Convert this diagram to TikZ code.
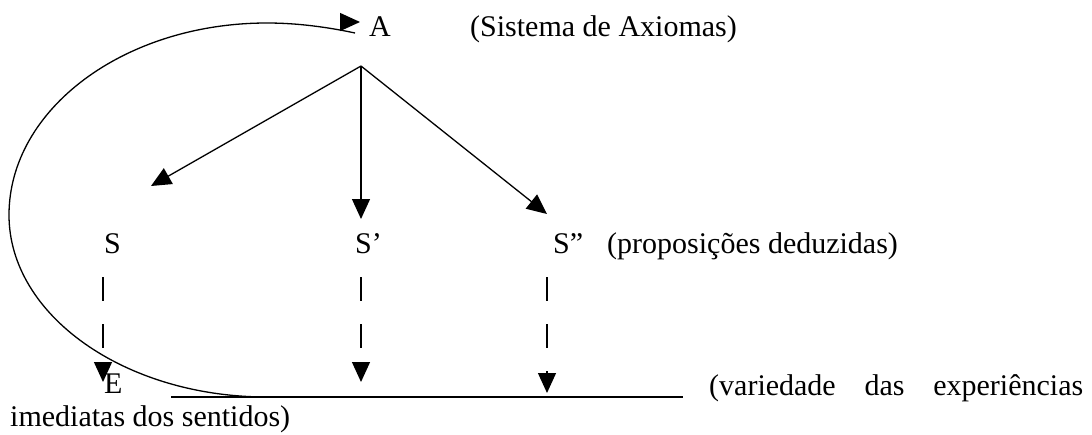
\documentclass[tikz,border=0pt]{standalone}
\usepackage{fontspec}
\setmainfont{Liberation Serif}
\usetikzlibrary{arrows.meta}
\begin{document}
\begin{tikzpicture}[x=1pt,y=-1pt,
  lbl/.style={anchor=base west, inner sep=0pt, font=\fontsize{30}{36}\selectfont},
  solidarr/.style={line width=1.3pt, -{Triangle[length=20pt,width=18pt]}},
  dasharr/.style={line width=1.3pt, dash pattern=on 24pt off 23pt, -{Triangle[length=20pt,width=18pt]}},
  plain/.style={line width=1.3pt},
  ruleline/.style={line width=1.6pt}
]
\useasboundingbox (0,0) rectangle (1092,434);
% texts
\node[lbl] (A) at (369,36) {A};
\node[lbl] (sys) at (470,36) {(Sistema de Axiomas)};
\node[lbl] (S1) at (104,253) {S};
\node[lbl] (S2) at (355,253) {S’};
\node[lbl] (S3) at (553,253) {S”};
\node[lbl] (prop) at (607,253) {(proposições deduzidas)};
\node[lbl] (E) at (104,393) {E};
\node[lbl] (var) at (709,395) {\hbox to 374pt{(variedade\hfill das\hfill experiências}};
\node[lbl] (imed) at (10,426) {imediatas dos sentidos)};
% coordinates
\coordinate (top) at (361,66);
\coordinate (t1) at (151,186);
\coordinate (t2) at (361,219);
\coordinate (t3) at (547,214);
\coordinate (d1s) at (103,277);
\coordinate (d1e) at (103,382);
\coordinate (d2s) at (361,277);
\coordinate (d2e) at (361,382);
\coordinate (d3s) at (547,277);
\coordinate (d3e) at (547,393);
\coordinate (ul1) at (171,397);
\coordinate (ul2) at (683,397);
\coordinate (cstart) at (267,397);
\coordinate (cend) at (355,33);
\coordinate (aback) at (340,22);
\coordinate (atip) at (360,22);
% solid arrows from A
\draw[solidarr] (top) -- (t1);
\draw[solidarr] (top) -- (t2);
\draw[solidarr] (top) -- (t3);
% dashed arrows
\draw[dasharr] (d1s) -- (d1e);
\draw[dasharr] (d2s) -- (d2e);
\draw[dasharr] (d3s) -- (d3e);
% underline of E
\draw[ruleline] (ul1) -- (ul2);
% feedback curve
\draw[plain] (cstart) .. controls (124.5,397) and (9,315) .. (9,215)
  .. controls (9,109) and (124.5,23) .. (267,23)
  .. controls (297,23) and (327,27) .. (cend);
\draw[solidarr] (aback) -- (atip);
\end{tikzpicture}
\end{document}
